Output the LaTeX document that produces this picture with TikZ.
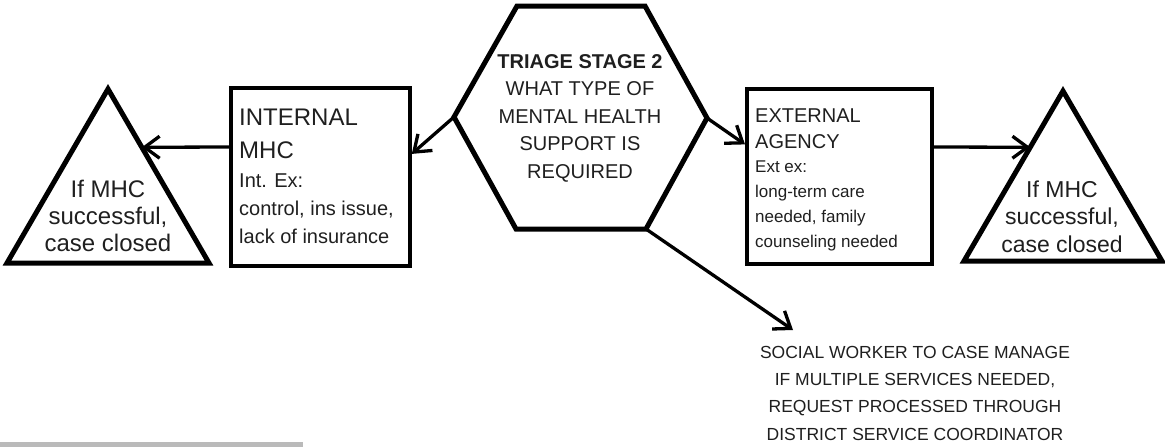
\documentclass[tikz,border=0pt]{standalone}
\usepackage{fontspec}
\setmainfont{Liberation Sans}
\usetikzlibrary{arrows.meta,calc}
\begin{document}
\begin{tikzpicture}[x=1pt,y=-1pt,
  thickshape/.style={line width=5pt,line join=miter},
  boxshape/.style={draw,line width=3.8pt,inner sep=0pt,anchor=north west},
  conn/.style={line width=3.3pt,-{Straight Barb[length=15pt,width=22pt,line width=3.3pt]}},
  txt/.style={inner sep=0pt,text=black!88},
]
\useasboundingbox (0,0) rectangle (1165,447);
\fill[fill=black!27] (0,442) rectangle (303,447);

% left triangle
\coordinate (ltA) at (108,89);
\coordinate (ltL) at (7,263);
\coordinate (ltR) at (209,263);
\draw[thickshape] (ltA) -- (ltL) -- (ltR) -- cycle;
\coordinate (ltIn) at ($(ltA)!0.335!(ltR)$);
\node[txt,anchor=base,align=center,font=\fontsize{24}{27}\selectfont] (lttext) at (108,251) {If MHC\\successful,\\case closed};

% internal box
\node[boxshape,minimum width=179pt,minimum height=178pt] (intbox) at (229,86) {};
\node[txt,anchor=base west,align=left,font=\fontsize{24}{33}\selectfont] (inttitle) at (239,158) {INTERNAL\\MHC};
\node[txt,anchor=base west,align=left,font=\fontsize{20}{28}\selectfont] (intbody) at (239,243) {Int. Ex:\\control, ins issue,\\lack of insurance};

% hexagon
\coordinate (hTL) at (517,6);
\coordinate (hTR) at (645,6);
\coordinate (hR) at (707,118);
\coordinate (hBR) at (646,229);
\coordinate (hBL) at (516,229);
\coordinate (hL) at (454,117);
\draw[thickshape] (hTL) -- (hTR) -- (hR) -- (hBR) -- (hBL) -- (hL) -- cycle;
\node[txt,anchor=base,align=center,font=\fontsize{20}{27.5}\selectfont] (hextext) at (580,178) {\textbf{TRIAGE STAGE 2}\\WHAT TYPE OF\\MENTAL HEALTH\\SUPPORT IS\\REQUIRED};

% external box
\node[boxshape,minimum width=185pt,minimum height=175pt] (extbox) at (745,87) {};
\node[txt,anchor=base west,align=left,font=\fontsize{20}{26}\selectfont] (exttitle) at (755,148) {EXTERNAL\\AGENCY};
\node[txt,anchor=base west,align=left,font=\fontsize{17}{24.7}\selectfont] (extbody) at (755,247) {Ext ex:\\long-term care\\needed, family\\counseling needed};

% right triangle
\coordinate (rtA) at (1063,91);
\coordinate (rtL) at (964,261);
\coordinate (rtR) at (1162,261);
\draw[thickshape] (rtA) -- (rtL) -- (rtR) -- cycle;
\coordinate (rtIn) at ($(rtA)!0.331!(rtL)$);
\node[txt,anchor=base,align=center,font=\fontsize{23}{27.5}\selectfont] (rttext) at (1062,252) {If MHC\\successful,\\case closed};

% social worker text
\coordinate (swIn) at (793,330);
\node[txt,anchor=base,align=center,font=\fontsize{17.5}{27.3}\selectfont] (swtext) at (915,440) {SOCIAL WORKER TO CASE MANAGE\\IF MULTIPLE SERVICES NEEDED,\\REQUEST PROCESSED THROUGH\\DISTRICT SERVICE COORDINATOR};

% connectors
\draw[conn] (intbox.west |- 0,147) -- (ltIn);
\draw[conn] (hL) -- ([yshift=23pt]intbox.east);
\draw[conn] (hR) -- ([yshift=32pt]extbox.west);
\draw[conn] (extbox.east |- 0,147) -- (rtIn);
\draw[conn] (hBR) -- (swIn);
\end{tikzpicture}
\end{document}
